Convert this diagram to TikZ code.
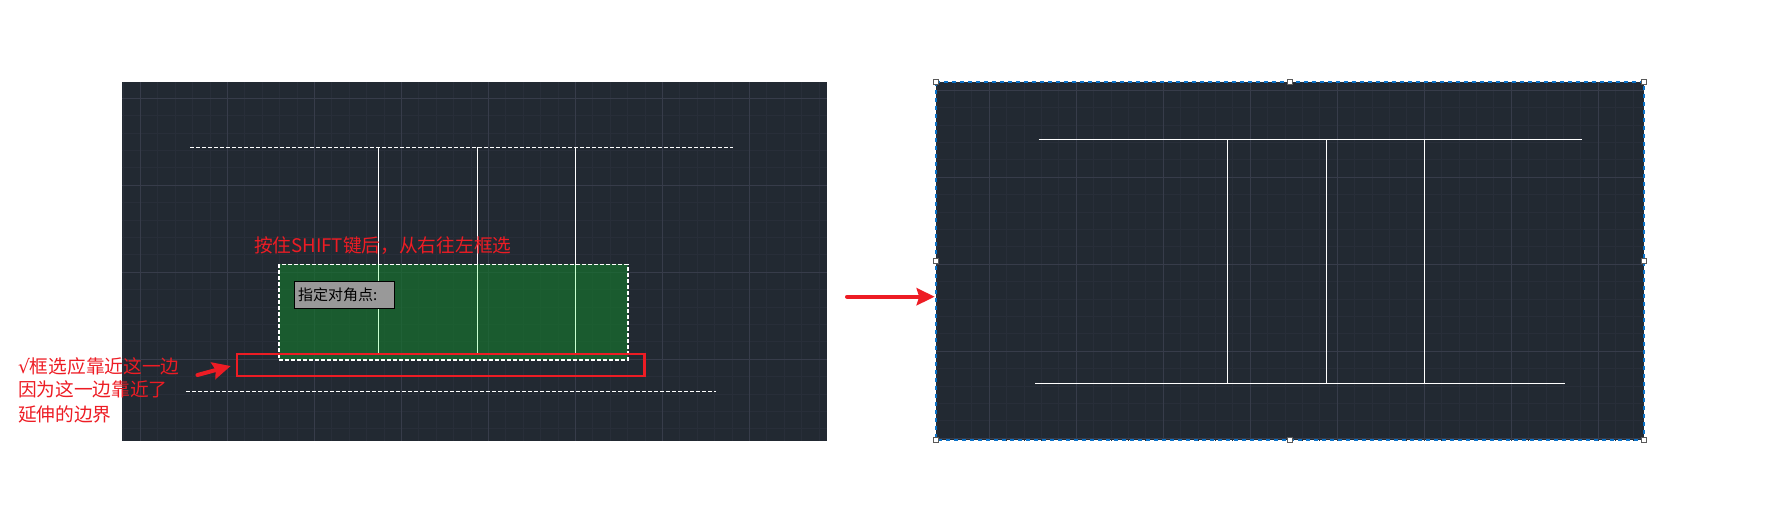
\documentclass[tikz,border=0pt]{standalone}
\usepackage{fontspec}
\usetikzlibrary{arrows.meta}
\setmainfont{Noto Sans CJK SC}
\newfontfamily\symfont{DejaVu Sans}
\definecolor{panelbg}{HTML}{222932}
\definecolor{gridmajor}{HTML}{373C4A}
\definecolor{gridminor}{HTML}{282E39}
\definecolor{selgreen}{HTML}{17712F}
\definecolor{lightline}{HTML}{C8FFD0}
\definecolor{notered}{HTML}{ED1C24}
\definecolor{selblue}{HTML}{0B72C8}
\definecolor{tipgray}{HTML}{999999}
\tikzset{
  panel/.style={fill=panelbg,draw=none,inner sep=0pt,outer sep=0pt},
  majorgrid/.style={draw=gridmajor,line width=0.9pt},
  minorgrid/.style={draw=gridminor,line width=0.9pt},
  cadline/.style={draw=white,line width=1.1pt},
  caddash/.style={draw=white,line width=1.2pt,dash pattern=on 4pt off 2pt},
  seldash/.style={draw=selblue,line width=1.8pt,dash pattern=on 4pt off 4pt},
  handle/.style={draw=black!65,fill=white,line width=1pt,inner sep=0pt,outer sep=0pt,minimum size=4.6pt},
  note/.style={text=notered,font=\fontsize{18.7pt}{24pt}\selectfont,inner sep=0pt,outer sep=0pt,anchor=west},
  redarrow/.style={draw=notered,line width=4pt,line cap=round,-{Stealth[length=18pt,width=17pt,inset=2.5pt]}},
}
\begin{document}
\begin{tikzpicture}[x=1pt,y=-1pt]
\useasboundingbox (0,0) rectangle (1772,511);

% left panel
\node[panel,minimum width=705pt,minimum height=359pt] (leftpanel) at (474.5,261.5) {};
\begin{scope}
  \clip (leftpanel.north west) rectangle (leftpanel.south east);
  \foreach \i in {0,...,40} \draw[minorgrid] ({123.1+17.4*\i},82) -- ({123.1+17.4*\i},441);
  \foreach \i in {0,...,20} \draw[minorgrid] (122,{98.3+17.4*\i}) -- (827,{98.3+17.4*\i});
  \foreach \i in {0,...,7} \draw[majorgrid] ({140.5+87*\i},82) -- ({140.5+87*\i},441);
  \foreach \i in {0,...,3} \draw[majorgrid] (122,{98.3+87*\i}) -- (827,{98.3+87*\i});
\end{scope}

% right panel
\node[panel,minimum width=708pt,minimum height=358pt] (rightpanel) at (1290,261) {};
\begin{scope}
  \clip (rightpanel.north west) rectangle (rightpanel.south east);
  \foreach \i in {0,...,40} \draw[minorgrid] ({937.1+17.4*\i},82) -- ({937.1+17.4*\i},441);
  \foreach \i in {0,...,20} \draw[minorgrid] (936,{90.3+17.4*\i}) -- (1644,{90.3+17.4*\i});
  \foreach \i in {0,...,7} \draw[majorgrid] ({989.3+87*\i},82) -- ({989.3+87*\i},441);
  \foreach \i in {0,...,4} \draw[majorgrid] (936,{90.3+87*\i}) -- (1644,{90.3+87*\i});
\end{scope}

% green selection
\node[fill=selgreen,fill opacity=0.7,inner sep=0pt,outer sep=0pt,minimum width=349pt,minimum height=95.7pt] (selection) at (453.5,312.2) {};
\draw[caddash] (selection.north west) rectangle (selection.south east);

% left panel lines
\coordinate (ltl) at (190,147.3);
\coordinate (ltr) at (732.7,147.3);
\coordinate (lbl) at (186,391.3);
\coordinate (lbr) at (716,391.3);
\draw[caddash] (ltl) -- (ltr);
\draw[caddash] (lbl) -- (lbr);
\foreach \n/\x in {a/378.3,b/477.3,c/575.6}{
  \coordinate (v\n t) at (\x,147.3);
  \coordinate (v\n m) at (\x,265);
  \coordinate (v\n b) at (\x,353.5);
  \draw[cadline] (v\n t) -- (v\n m);
  \draw[cadline,draw=lightline] (v\n m) -- (v\n b);
}

% tooltip
\node[draw=black,line width=1.1pt,fill=tipgray,inner sep=0pt,outer sep=0pt,minimum width=100pt,minimum height=27pt] (tip) at (344.5,294.8) {};
\node[anchor=west,inner sep=0pt,outer sep=0pt,font=\fontsize{15pt}{16pt}\selectfont,text=black] (tiptext) at (298,294.8) {指定对角点:};

% red box
\node[draw=notered,line width=2.3pt,inner sep=0pt,outer sep=0pt,minimum width=407.5pt,minimum height=21.4pt] (redbox) at (440.8,365) {};

% notes
\node[note] (title) at (254,246) {按住SHIFT键后，从右往左框选};
\node[note] (n1) at (18,366) {{\symfont √}框选应靠近这一边};
\node[note] (n2) at (18,389.5) {因为这一边靠近了};
\node[note] (n3) at (18,414) {延伸的边界};

% arrows
\coordinate (a1s) at (197.5,375);
\coordinate (a1e) at (230.7,366);
\draw[redarrow] (a1s) -- (a1e);
\coordinate (a2s) at (847,296.7);
\coordinate (a2e) at (934.7,296.7);
\draw[redarrow] (a2s) -- (a2e);

% right panel lines
\coordinate (rtl) at (1038.5,139.3);
\coordinate (rtr) at (1581.7,139.3);
\coordinate (rbl) at (1035,383.3);
\coordinate (rbr) at (1565,383.3);
\draw[cadline] (rtl) -- (rtr);
\draw[cadline] (rbl) -- (rbr);
\foreach \n/\x in {d/1227.3,e/1326.3,f/1424.3}{
  \coordinate (v\n t) at (\x,139.3);
  \coordinate (v\n b) at (\x,383.3);
  \draw[cadline] (v\n t) -- (v\n b);
}

% selection border and grips
\draw[seldash] (rightpanel.north west) rectangle (rightpanel.south east);
\node[handle] (h1) at (rightpanel.north west) {};
\node[handle] (h2) at (rightpanel.north) {};
\node[handle] (h3) at (rightpanel.north east) {};
\node[handle] (h4) at (rightpanel.west) {};
\node[handle] (h5) at (rightpanel.east) {};
\node[handle] (h6) at (rightpanel.south west) {};
\node[handle] (h7) at (rightpanel.south) {};
\node[handle] (h8) at (rightpanel.south east) {};
\end{tikzpicture}
\end{document}
